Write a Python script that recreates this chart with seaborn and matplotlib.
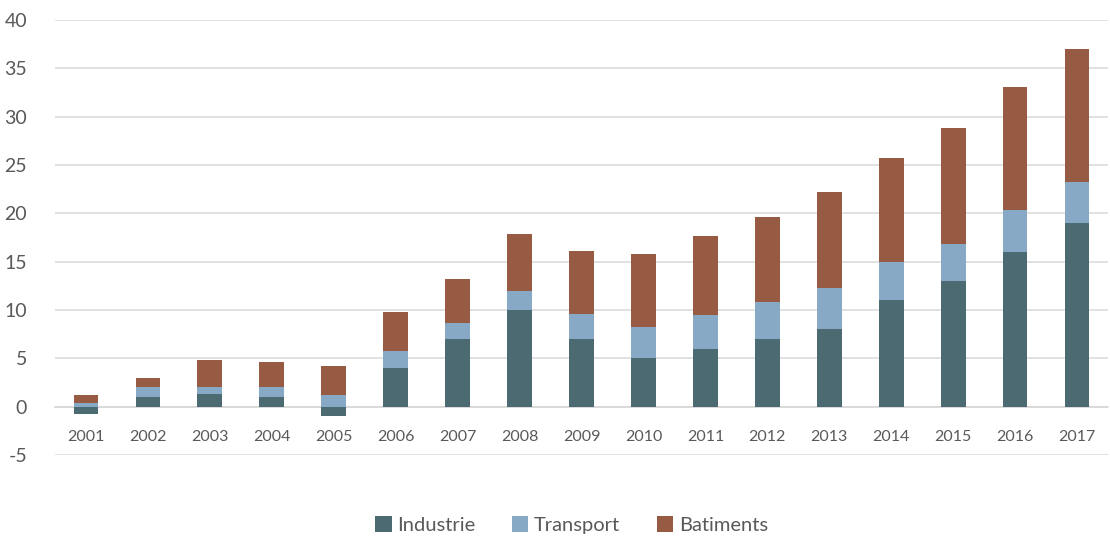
import numpy as np
import pandas as pd
import matplotlib
matplotlib.use("Agg")
import matplotlib.pyplot as plt
import seaborn as sns
from matplotlib.patches import Patch

years = ["2001", "2002", "2003", "2004", "2005", "2006", "2007", "2008", "2009",
         "2010", "2011", "2012", "2013", "2014", "2015", "2016", "2017"]
industrie = [-0.8, 1.0, 1.35, 1.0, -1.0, 4.0, 7.0, 10.0, 7.0, 5.0, 6.0, 7.0, 8.0, 11.0, 13.0, 16.0, 19.0]
transport = [0.4, 1.0, 0.65, 1.0, 1.2, 1.8, 1.7, 2.0, 2.6, 3.2, 3.5, 3.85, 4.3, 4.0, 3.85, 4.3, 4.2]
batiments = [0.8, 1.0, 2.8, 2.6, 3.0, 4.0, 4.5, 5.85, 6.5, 7.55, 8.2, 8.8, 9.95, 10.7, 11.95, 12.8, 13.8]
series_names = ["Industrie", "Transport", "Batiments"]
colors = ["#4B6A72", "#88A9C5", "#975A43"]
yticks = [-5, 0, 5, 10, 15, 20, 25, 30, 35, 40]

sns.set_theme(style="white")
plt.rcParams["font.family"] = ["Lato", "DejaVu Sans"]
plt.rcParams["axes.unicode_minus"] = False

fig = plt.figure(figsize=(11.1, 5.36), dpi=100)
ax = fig.add_axes([55/1110, (536-455)/536, (1108-55)/1110, (455-20)/536])

pos_bottom = np.zeros(len(years))
neg_bottom = np.zeros(len(years))
for name, vals, col in zip(series_names, [industrie, transport, batiments], colors):
    v = np.array(vals, dtype=float)
    bottoms = np.where(v >= 0, pos_bottom, neg_bottom)
    df = pd.DataFrame({"year": years, "value": v})
    sns.barplot(data=df, x="year", y="value", bottom=bottoms, color=col,
                width=0.4, saturation=1, ax=ax, zorder=3, linewidth=0)
    pos_bottom = pos_bottom + np.where(v >= 0, v, 0)
    neg_bottom = neg_bottom + np.where(v < 0, v, 0)

ax.set_ylim(-5, 40)
ax.set_xlim(-0.5, len(years) - 0.5)
ax.set_yticks(yticks)
ax.yaxis.grid(True, color="#D9D9D9", linewidth=1.1, zorder=0)
ax.set_axisbelow(True)
for s in ["top", "right", "left"]:
    ax.spines[s].set_visible(False)
ax.spines["bottom"].set_position(("data", 0))
ax.spines["bottom"].set_color("#D9D9D9")
ax.spines["bottom"].set_linewidth(1.1)
ax.set_xlabel("")
ax.set_ylabel("")
ax.tick_params(axis="x", length=0, pad=17, labelsize=11.5, labelcolor="#595959")
ax.tick_params(axis="y", length=0, pad=20, labelsize=14, labelcolor="#595959")

handles = [Patch(facecolor=c, edgecolor="none") for c in colors]
fig.legend(handles, series_names, loc="lower center", bbox_to_anchor=(0.515, -0.03),
           ncol=3, frameon=False, fontsize=14.5, handlelength=0.8, handleheight=0.8,
           handletextpad=0.3, columnspacing=1.8, labelcolor="#595959")

fig.savefig("out.png", dpi=100)
